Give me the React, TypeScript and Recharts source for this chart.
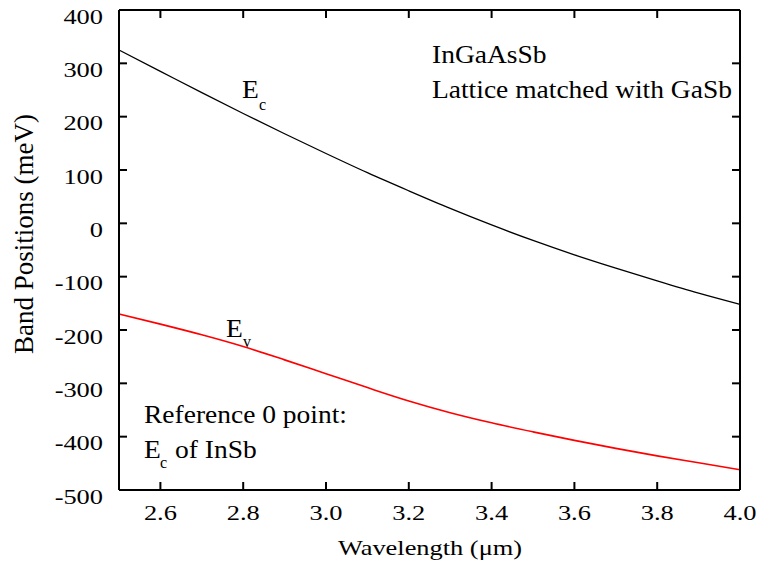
import { LineChart, Line, XAxis, YAxis } from 'recharts';

// wavelength in um
const wavelength = [2.5, 2.6, 2.7, 2.8, 2.9, 3.0, 3.1, 3.2, 3.3, 3.4, 3.5, 3.6, 3.7, 3.8, 3.9, 4.0];
// conduction band edge (meV)
const ecBand = [325, 285, 245, 206, 168, 131, 95, 61, 28, -3, -32, -59, -84, -108, -131, -152];
// valence band edge (meV)
const evBand = [-170, -189, -209, -231, -256, -282, -308, -333, -355, -374, -391, -407, -422, -436, -449, -462];

const xTicks = [2.6, 2.8, 3.0, 3.2, 3.4, 3.6, 3.8, 4.0];
const yTicks = [-500, -400, -300, -200, -100, 0, 100, 200, 300, 400];

const data = wavelength.map((w, i) => ({ w, ec: ecBand[i], ev: evBand[i] }));

const SERIF = "'Liberation Serif', 'Times New Roman', serif";

// plot frame, page pixels
const TOP = 10;
const BOTTOM = 490;
const LEFT = 119;
const RIGHT = 740;
const TICK = 8;

const Stretch = ({ x, y, sx = 1.2, size = 22, anchor = 'start', children }: any) => (
	<text
		transform={`translate(${x},${y}) scale(${sx},1)`}
		fontSize={size}
		textAnchor={anchor}
		fontFamily={SERIF}
		fill='#000'
	>
		{children}
	</text>
);

// inward ticks on bottom and top, label below
const XTick = ({ x, payload }: any) => (
	<g>
		<line x1={x} x2={x} y1={BOTTOM} y2={BOTTOM - TICK} stroke='#000' strokeWidth={2} />
		<line x1={x} x2={x} y1={TOP} y2={TOP + TICK} stroke='#000' strokeWidth={2} />
		<Stretch x={x} y={520} anchor='middle'>
			{Number(payload.value).toFixed(1)}
		</Stretch>
	</g>
);

// inward ticks on left and right, label left
const YTick = ({ y, payload }: any) => (
	<g>
		<line x1={LEFT} x2={LEFT + TICK} y1={y} y2={y} stroke='#000' strokeWidth={2} />
		<line x1={RIGHT} x2={RIGHT - TICK} y1={y} y2={y} stroke='#000' strokeWidth={2} />
		<Stretch x={103} y={y + 13.5} anchor='end'>
			{payload.value}
		</Stretch>
	</g>
);

const axisLine = { stroke: '#000', strokeWidth: 2 };

const App = () => {
	return (
		<div style={{ position: 'absolute', left: 0, top: 0, width: 761, height: 565, background: '#fff' }}>
			<LineChart
				width={761}
				height={565}
				data={data}
				margin={{ top: TOP, right: 761 - RIGHT, bottom: 565 - BOTTOM, left: LEFT }}
			>
				<XAxis
					xAxisId='b'
					dataKey='w'
					type='number'
					domain={[2.5, 4.0]}
					ticks={xTicks}
					interval={0}
					mirror
					axisLine={axisLine}
					tickLine={false}
					tick={<XTick />}
				/>
				<XAxis
					xAxisId='t'
					orientation='top'
					dataKey='w'
					type='number'
					domain={[2.5, 4.0]}
					mirror
					axisLine={axisLine}
					tickLine={false}
					tick={false}
				/>
				<YAxis
					yAxisId='l'
					type='number'
					domain={[-500, 400]}
					ticks={yTicks}
					interval={0}
					mirror
					axisLine={axisLine}
					tickLine={false}
					tick={<YTick />}
				/>
				<YAxis
					yAxisId='r'
					orientation='right'
					type='number'
					domain={[-500, 400]}
					mirror
					axisLine={axisLine}
					tickLine={false}
					tick={false}
				/>
				<Line
					xAxisId='b'
					yAxisId='l'
					type='monotone'
					dataKey='ec'
					stroke='#000'
					strokeWidth={1.3}
					dot={false}
					isAnimationActive={false}
				/>
				<Line
					xAxisId='b'
					yAxisId='l'
					type='monotone'
					dataKey='ev'
					stroke='#ff0000'
					strokeWidth={1.6}
					dot={false}
					isAnimationActive={false}
				/>
			</LineChart>
			<svg
				width={761}
				height={565}
				style={{ position: 'absolute', left: 0, top: 0, pointerEvents: 'none' }}
			>
				<text
					transform='translate(33,234) rotate(-90)'
					fontSize={27}
					textAnchor='middle'
					fontFamily={SERIF}
					fill='#000'
				>
					Band Positions (meV)
				</text>
				<Stretch x={430} y={555} anchor='middle'>
					Wavelength (μm)
				</Stretch>
				<Stretch x={432} y={63} size={25} sx={1.1}>InGaAsSb</Stretch>
				<Stretch x={432} y={98} size={25} sx={1.1}>Lattice matched with GaSb</Stretch>
				<Stretch x={242} y={98} size={25} sx={1.1}>E</Stretch>
				<Stretch x={259} y={110} size={16} sx={1}>c</Stretch>
				<Stretch x={226} y={337} size={25} sx={1.1}>E</Stretch>
				<Stretch x={243} y={347} size={16} sx={1}>v</Stretch>
				<Stretch x={144} y={423} size={25} sx={1.1}>Reference 0 point:</Stretch>
				<Stretch x={144} y={458} size={25} sx={1.1}>E</Stretch>
				<Stretch x={160} y={468} size={16} sx={1}>c</Stretch>
				<Stretch x={175} y={458} size={25} sx={1.1}>of InSb</Stretch>
			</svg>
		</div>
	);
};

export default App;
